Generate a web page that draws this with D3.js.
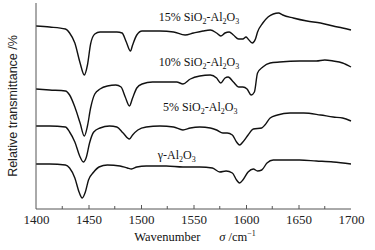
<!DOCTYPE html>
<html>
<head>
<meta charset="utf-8">
<script src="https://cdn.jsdelivr.net/npm/d3@7"></script>
<style>
  body { margin: 0; background: #fff; }
  svg { display: block; }
</style>
</head>
<body>
<div id="chart"></div>
<script>
// Wavenumber (cm-1) and relative transmittance (a.u.).
const wn15 = [1400,1413,1428,1432,1437,1442,1446,1449,1452,1456,1461,1468,1477,1482,1486,1490,1492,1496,1501,1509,1518,1531,1542,1550,1559,1566,1572,1576,1580,1584,1588,1593,1597,1600,1602,1606,1609,1611,1616,1621,1626,1631,1635,1645,1658,1671,1683,1692,1700];
const t15  = [181,180,178,174,164,144,132,142,163,173,175,175,175,174,165,156,162,172,176,176,176,175,172,174,176,177,174,171,174,175,172,168,168,170,168,164,168,175,184,190,193,194,192,189,186,184,181,179,177];

const wn10 = [1400,1413,1428,1432,1437,1442,1446,1449,1452,1456,1461,1468,1476,1481,1485,1489,1492,1496,1501,1511,1524,1534,1540,1547,1556,1566,1572,1576,1580,1583,1588,1593,1597,1601,1605,1608,1611,1616,1623,1632,1651,1667,1675,1683,1692,1700];
const t10  = [118,117,116,112,100,84,71,81,99,113,118,121,122,120,110,101,109,119,123,125,125,125,123,128,131,132,129,124,129,130,125,120,120,118,112,115,134,140,144,145,146,146,147,146,144,140];

const wn5 = [1400,1413,1428,1432,1437,1442,1445,1448,1451,1455,1461,1470,1477,1483,1489,1492,1497,1505,1518,1531,1540,1547,1556,1566,1572,1578,1582,1587,1591,1594,1597,1602,1607,1615,1618,1623,1630,1642,1655,1671,1683,1692,1700];
const t5  = [81,81,80,75,65,50,45,50,64,75,79,81,80,74,68,72,77,80,81,80,77,79,80,79,77,74,74,72,65,62,65,72,78,79,82,89,92,94,94,92,90,89,86];

const wn0 = [1400,1413,1428,1432,1437,1441,1444,1447,1450,1455,1460,1468,1480,1487,1491,1496,1505,1524,1540,1556,1568,1575,1581,1587,1591,1594,1597,1602,1607,1611,1615,1620,1626,1635,1651,1667,1683,1700];
const t0  = [43,43,42,39,29,15,9,15,27,35,40,42,41,39,38,40,41,41,40,40,39,35,36,34,27,24,27,35,38,36,37,44,47,47,47,46,45,43];

const xTicks = [1400, 1450, 1500, 1550, 1600, 1650, 1700];
const xMinorTicks = [1425, 1475, 1525, 1575, 1625, 1675];

const width = 375;
const height = 250;
const marginTop = 3;
const marginRight = 24;
const marginBottom = 41;
const marginLeft = 36;

const x = d3.scaleLinear([1400, 1700], [marginLeft, width - marginRight]);
const y = d3.scaleLinear([-2, 204], [height - marginBottom, marginTop]);

const svg = d3.create("svg")
  .attr("width", width)
  .attr("height", height)
  .attr("viewBox", [0, 0, width, height]);

d3.select("#chart").append(() => svg.node());

const line = d3.line()
  .x(d => x(d[0]))
  .y(d => y(d[1]))
  .curve(d3.curveMonotoneX);

const series = [
  d3.zip(wn15, t15),
  d3.zip(wn10, t10),
  d3.zip(wn5, t5),
  d3.zip(wn0, t0)
];

svg.append("g")
  .attr("fill", "none")
  .attr("stroke", "#111")
  .attr("stroke-width", 1.4)
  .attr("stroke-linejoin", "round")
  .selectAll("path")
  .data(series)
  .join("path")
  .attr("d", line);

const serif = "'Liberation Serif', 'Times New Roman', serif";

// Bottom axis: ticks point inwards, minor ticks every 25.
const xAxis = svg.append("g")
  .attr("transform", `translate(0,${height - marginBottom})`)
  .call(d3.axisBottom(x).tickValues(xTicks).tickSize(-4).tickPadding(6).tickFormat(d3.format("d")))
  .call(g => g.selectAll("text")
    .attr("font-family", serif)
    .attr("font-size", 13)
    .attr("fill", "#222"));

xAxis.selectAll(".tick").filter(d => d === 1400 || d === 1700).select("line").remove();
xAxis.select(".domain").attr("d", `M${marginLeft},0H${width - marginRight}`).attr("stroke", "#555");
xAxis.selectAll(".tick line").attr("stroke", "#555");

svg.append("g")
  .attr("transform", `translate(0,${height - marginBottom})`)
  .selectAll("line")
  .data(xMinorTicks)
  .join("line")
  .attr("x1", d => x(d)).attr("x2", d => x(d))
  .attr("y1", 0).attr("y2", -3)
  .attr("stroke", "#555");

// Left axis line only.
svg.append("line")
  .attr("x1", marginLeft).attr("x2", marginLeft)
  .attr("y1", marginTop).attr("y2", height - marginBottom)
  .attr("stroke", "#555");

// Series labels with subscripts.
const labels = [
  { x: 1517, y: 186, parts: ["15% SiO", "2", "-Al", "2", "O", "3"] },
  { x: 1517, y: 141, parts: ["10% SiO", "2", "-Al", "2", "O", "3"] },
  { x: 1521, y: 96,  parts: ["5% SiO", "2", "-Al", "2", "O", "3"] },
  { x: 1516, y: 48,  parts: ["γ-Al", "2", "O", "3"] }
];

labels.forEach(l => {
  const t = svg.append("text")
    .attr("x", x(l.x))
    .attr("y", y(l.y))
    .attr("font-family", serif)
    .attr("font-size", 12)
    .attr("fill", "#111");
  l.parts.forEach((p, i) => {
    const sub = i % 2 === 1;
    t.append("tspan")
      .attr("font-size", sub ? 8 : 12)
      .attr("dy", sub ? 3 : (i === 0 ? 0 : -3))
      .text(p);
  });
});

// Axis titles.
const xt = svg.append("text")
  .attr("x", 195)
  .attr("y", 241)
  .attr("text-anchor", "middle")
  .attr("font-family", serif)
  .attr("font-size", 12.5)
  .attr("fill", "#111");
xt.append("tspan").text("Wavenumber\u2003\u2002");
xt.append("tspan").attr("font-style", "italic").text("σ");
xt.append("tspan").text(" /cm");
xt.append("tspan").attr("font-size", 8).attr("dy", -5).text("−1");

svg.append("text")
  .attr("transform", `translate(17,${(marginTop + height - marginBottom) / 2}) rotate(-90)`)
  .attr("text-anchor", "middle")
  .attr("font-family", "'Liberation Sans', Arial, sans-serif")
  .attr("font-size", 12.5)
  .attr("fill", "#222")
  .text("Relative transmittance /%");
</script>
</body>
</html>
